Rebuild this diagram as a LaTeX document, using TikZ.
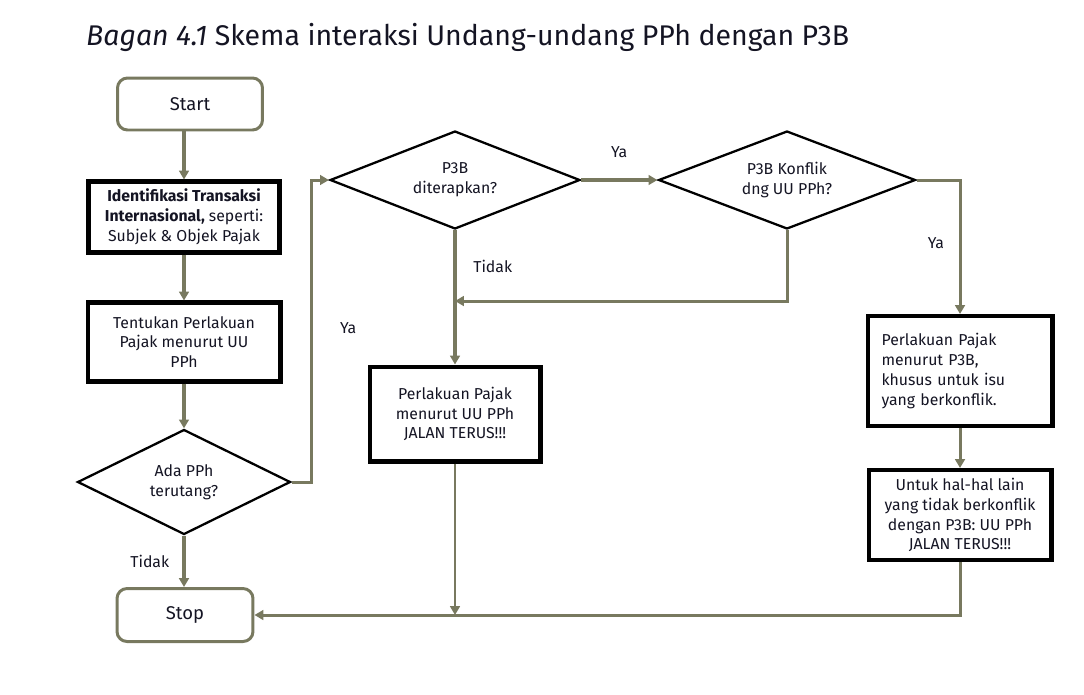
\documentclass[tikz,border=0pt]{standalone}
\usepackage{fontspec}
\setmainfont{Fira Sans}
\usepackage{tikz}
\usetikzlibrary{shapes.geometric, arrows.meta}

\definecolor{flowgray}{RGB}{120,121,95}
\definecolor{inkblack}{RGB}{20,20,35}

\begin{document}
\begin{tikzpicture}[
        x=0.02cm, y=-0.02cm,
        every node/.style={align=center, text=inkblack, font=\fontsize{9}{11.3}\selectfont},
        terminal/.style={draw=flowgray, line width=1.7pt, rounded corners=0.2cm,
            minimum width=2.9cm, minimum height=1.04cm, font=\fontsize{10.5}{12}\selectfont},
        process/.style={draw=black, line width=2.3pt, inner sep=2pt},
        decision/.style={draw=black, line width=1.3pt, diamond, aspect=2.5, inner sep=0pt},
        flow/.style={draw=flowgray, line width=2.2pt, -{Triangle[length=5pt, width=5.5pt]}},
        thinflow/.style={draw=flowgray, line width=1.7pt, -{Triangle[length=5pt, width=5.5pt]}},
        answer/.style={font=\fontsize{9}{11}\selectfont}
    ]
        \useasboundingbox (0,0) rectangle (1084,694);

        % title
        \node[anchor=west, font=\fontsize{16.2}{19}\selectfont] (title) at (80,37)
            {\textit{Bagan 4.1} Skema interaksi Undang-undang PPh dengan P3B};

        % left column
        \node[terminal] (start) at (190,104) {Start};
        \node[process, minimum width=3.82cm, minimum height=1.42cm] (ident) at (184,217)
            {\textbf{Identifikasi Transaksi}\\\textbf{Internasional,} seperti:\\Subjek \& Objek Pajak};
        \node[process, minimum width=3.86cm, minimum height=1.58cm] (tentu) at (184,342)
            {Tentukan Perlakuan\\Pajak menurut UU\\PPh};
        \node[decision, minimum width=4.26cm, minimum height=2.1cm] (ada) at (184,482)
            {Ada PPh\\terutang?};
        \node[terminal, minimum width=2.72cm, minimum height=1.06cm] (stop) at (185,615) {Stop};

        % middle
        \node[decision, minimum width=5cm, minimum height=1.96cm] (p3b) at (455,180)
            {P3B\\diterapkan?};
        \node[process, minimum width=3.42cm, minimum height=1.9cm] (uu) at (455,414)
            {Perlakuan Pajak\\menurut UU PPh\\JALAN TERUS!!!};

        % right
        \node[decision, minimum width=5.14cm, minimum height=1.96cm] (konf) at (787,180)
            {P3B Konflik\\dng UU PPh?};
        \node[process, minimum width=3.7cm, minimum height=2.2cm, text width=3.14cm, align=left] (treaty) at (960,371)
            {Perlakuan Pajak\\menurut P3B,\\khusus untuk isu\\yang berkonflik.};
        \node[process, minimum width=3.66cm, minimum height=1.8cm] (other) at (960,515)
            {Untuk hal-hal lain\\yang tidak berkonflik\\dengan P3B: UU PPh\\JALAN TERUS!!!};

        \coordinate (merge) at (455,301);

        % connectors
        \draw[flow] (ident.north |- start.south) -- (ident);
        \draw[flow] (ident) -- (tentu);
        \draw[flow] (tentu) -- (ada);
        \draw[flow] (ada) -- node[answer, left=4pt] {Tidak} (ada.south |- stop.north);
        \draw[thinflow] (ada.east) -- ++(20,0) |- node[answer, pos=0.255, right=12pt] {Ya} (p3b.west);
        \draw[flow] (p3b.east) -- node[answer, above=8pt] {Ya} (konf.west);
        \draw[flow] (p3b.south) -- node[answer, pos=0.27, right=6pt] {Tidak} (uu.north);
        \draw[thinflow] (konf.south) |- (merge);
        \draw[thinflow] (konf.east) -| node[answer, pos=0.735, left=5pt] {Ya} (treaty.north);
        \draw[thinflow] (treaty) -- (other);
        \draw[thinflow] (other.south) |- (stop.east);
        \draw[thinflow, line width=1.2pt] (uu.south) -- (uu.south |- stop.east);
    \end{tikzpicture}
\end{document}
